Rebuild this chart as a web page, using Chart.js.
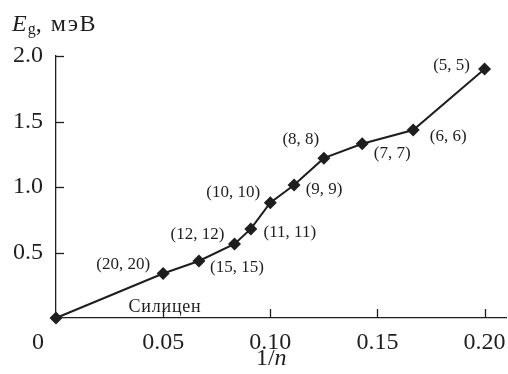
<!DOCTYPE html>
<html><head><meta charset="utf-8">
<script src="https://cdn.jsdelivr.net/npm/chart.js@4.4.0/dist/chart.umd.min.js"></script>
<style>html,body{margin:0;padding:0;background:#fff}#wrap{width:508px;height:374px}</style>
</head><body><div id="wrap"><canvas id="c" width="508" height="374"></canvas></div>
<script>
// ---- data ----
const invN = [0, 0.05, 0.0667, 0.0833, 0.0909, 0.1, 0.1111, 0.125, 0.1429, 0.1667, 0.2];
const egValues = [0, 0.34, 0.435, 0.565, 0.68, 0.88, 1.015, 1.22, 1.33, 1.435, 1.90];
const pointLabels = ['', '(20, 20)', '(15, 15)', '(12, 12)', '(11, 11)', '(10, 10)', '(9, 9)', '(8, 8)', '(7, 7)', '(6, 6)', '(5, 5)'];
const xTicks = [0, 0.05, 0.10, 0.15, 0.20];
const yTicks = [0, 0.5, 1.0, 1.5, 2.0];
const originLabel = 'Силицен';
const xTitleA = '1/', xTitleB = 'n';
const yTitleA = 'E', yTitleSub = 'g', yTitleB = ', мэВ';

// ---- styling ----
const FONT = "'Liberation Serif', 'Times New Roman', serif";
const INK = '#1e1e1e';
const labelOffsets = [[0,0],[-40,-9],[38,7],[-37,-9],[39,4],[-37,-10],[30,4],[-23,-19],[30,10],[35,7],[-33,-4]];

const decor = {
  id: 'decor',
  afterDraw(chart) {
    const ctx = chart.ctx, xs = chart.scales.x, ys = chart.scales.y;
    const ca = chart.chartArea;
    ctx.save();
    ctx.strokeStyle = INK; ctx.lineWidth = 1.3;
    // inward ticks
    xTicks.forEach(v => { if (v === 0) return; const px = Math.round(xs.getPixelForValue(v)) + 0.5;
      ctx.beginPath(); ctx.moveTo(px, ca.bottom); ctx.lineTo(px, ca.bottom - 9); ctx.stroke(); });
    yTicks.forEach(v => { if (v === 0) return; const py = Math.round(ys.getPixelForValue(v)) + 0.5;
      ctx.beginPath(); ctx.moveTo(ca.left, py); ctx.lineTo(ca.left + 8, py); ctx.stroke(); });
    // point labels
    ctx.fillStyle = INK; ctx.font = '17px ' + FONT; ctx.textAlign = 'center'; ctx.textBaseline = 'middle';
    const meta = chart.getDatasetMeta(0);
    meta.data.forEach((pt, i) => { if (!pointLabels[i]) return;
      ctx.fillText(pointLabels[i], pt.x + labelOffsets[i][0], pt.y + labelOffsets[i][1]); });
    const p0 = meta.data[0];
    ctx.font = '18px ' + FONT; ctx.letterSpacing = '0.8px';
    ctx.fillText(originLabel, p0.x + 109, p0.y - 11);
    ctx.letterSpacing = '0px';
    // x title
    ctx.textBaseline = 'alphabetic';
    ctx.font = '24px ' + FONT;
    const wA = ctx.measureText(xTitleA).width;
    ctx.font = 'italic 24px ' + FONT;
    const wB = ctx.measureText(xTitleB).width;
    const cx = xs.getPixelForValue(0.1) + 1, ty = ca.bottom + 47;
    ctx.textAlign = 'left';
    ctx.font = '24px ' + FONT; ctx.fillText(xTitleA, cx - (wA + wB) / 2, ty);
    ctx.font = 'italic 24px ' + FONT; ctx.fillText(xTitleB, cx - (wA + wB) / 2 + wA, ty);
    // y title
    let x = 12; const by = 31;
    ctx.font = 'italic 24px ' + FONT; ctx.fillText(yTitleA, x, by); x += ctx.measureText(yTitleA).width + 1;
    ctx.font = '16px ' + FONT; ctx.fillText(yTitleSub, x, by + 3); x += ctx.measureText(yTitleSub).width;
    ctx.font = '24px ' + FONT;
    ctx.letterSpacing = '1.5px';
    ctx.fillText(yTitleB, x, by);
    ctx.restore();
  }
};

new Chart(document.getElementById('c'), {
  type: 'scatter',
  data: { datasets: [{
    data: invN.map((v, i) => ({ x: v, y: egValues[i] })),
    showLine: true, borderColor: INK, borderWidth: 2,
    pointStyle: 'rectRot', pointRadius: 6.5, pointHoverRadius: 6.5,
    pointBackgroundColor: INK, pointBorderColor: INK, pointBorderWidth: 0, clip: false
  }]},
  options: {
    responsive: false, animation: false, devicePixelRatio: 1,
    layout: { autoPadding: false, padding: { top: 56, right: 2, left: 0, bottom: 0 } },
    plugins: { legend: { display: false }, tooltip: { enabled: false } },
    scales: {
      x: { type: 'linear', min: 0, max: 0.21,
        afterBuildTicks: s => { s.ticks = xTicks.map(v => ({ value: v })); },
        afterFit: s => { s.height = 56; s.paddingRight = 0; s.paddingLeft = 0; },
        grid: { display: false, drawTicks: false }, border: { display: true, color: INK, width: 1.3 },
        ticks: { color: INK, font: { family: FONT, size: 24 }, padding: 10, maxRotation: 0,
          callback: v => v === 0 ? '0      ' : v.toFixed(2) } },
      y: { type: 'linear', min: 0, max: 2.0,
        afterBuildTicks: s => { s.ticks = yTicks.map(v => ({ value: v })); },
        afterFit: s => { s.width = 56; },
        grid: { display: false, drawTicks: false }, border: { display: true, color: INK, width: 1.3 },
        ticks: { color: INK, font: { family: FONT, size: 24 }, padding: 13,
          callback: v => v === 0 ? '' : v.toFixed(1) } }
    }
  },
  plugins: [decor]
});
</script></body></html>
